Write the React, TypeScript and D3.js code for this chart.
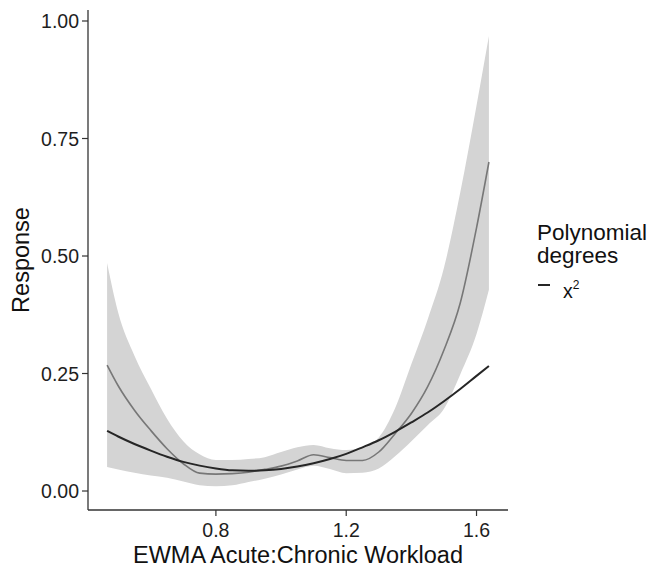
import React from 'react';
import * as d3 from 'd3';

// x grid (EWMA acute:chronic ratio) shared by every series
const workload = [0.466, 0.5, 0.55, 0.6, 0.65, 0.7, 0.75, 0.8, 0.85, 0.9, 0.95, 1.0, 1.05, 1.1, 1.15, 1.2, 1.25, 1.3, 1.35, 1.4, 1.45, 1.5, 1.55, 1.6, 1.638];

// smoother fit (grey) and its confidence band
const smoothFit = [0.268, 0.224, 0.172, 0.129, 0.09, 0.058, 0.038, 0.036, 0.037, 0.04, 0.046, 0.053, 0.064, 0.077, 0.071, 0.065, 0.065, 0.083, 0.122, 0.165, 0.222, 0.3, 0.4, 0.56, 0.7];
const bandUpper = [0.485, 0.38, 0.288, 0.218, 0.154, 0.106, 0.078, 0.066, 0.066, 0.068, 0.072, 0.083, 0.093, 0.098, 0.091, 0.087, 0.094, 0.114, 0.176, 0.27, 0.365, 0.475, 0.635, 0.82, 0.968];
const bandLower = [0.051, 0.046, 0.039, 0.033, 0.028, 0.02, 0.012, 0.01, 0.012, 0.019, 0.026, 0.035, 0.046, 0.054, 0.047, 0.038, 0.039, 0.048, 0.074, 0.106, 0.14, 0.175, 0.248, 0.334, 0.428];

// second degree polynomial (black)
const quadFit = [0.128, 0.116, 0.1, 0.086, 0.073, 0.062, 0.054, 0.048, 0.044, 0.043, 0.044, 0.047, 0.052, 0.059, 0.068, 0.079, 0.093, 0.108, 0.126, 0.146, 0.167, 0.191, 0.217, 0.245, 0.266];

const xTicks = [0.8, 1.2, 1.6];
const yTicks = [0, 0.25, 0.5, 0.75, 1];

const W = 654;
const H = 570;
const left = 88;
const right = 508;
const top = 10;
const bottom = 510;
const font = '"Liberation Sans", Arial, sans-serif';

export default function App() {
  const x = d3.scaleLinear().domain([0.4074, 1.6966]).range([left, right]);
  const y = d3.scaleLinear().domain([-0.0404, 1.0234]).range([bottom, top]);

  const band = d3.area<number>()
    .x((d, i) => x(workload[i]))
    .y0((d, i) => y(bandLower[i]))
    .y1((d) => y(d))
    .curve(d3.curveMonotoneX);

  const line = d3.line<number>()
    .x((d, i) => x(workload[i]))
    .y((d) => y(d))
    .curve(d3.curveMonotoneX);

  return (
    <svg width={W} height={H} style={{position: 'absolute', left: 0, top: 0, background: '#fff'}} fontFamily={font}>
      <rect width={W} height={H} fill="#fff"/>
      <path d={band(bandUpper) || ''} fill="#d4d4d4" stroke="none"/>
      <path d={line(smoothFit) || ''} fill="none" stroke="#777" strokeWidth={1.6}/>
      <path d={line(quadFit) || ''} fill="none" stroke="#262626" strokeWidth={2}/>

      {/* axes */}
      <line x1={left} x2={left} y1={top} y2={bottom} stroke="#333" strokeWidth={1.3}/>
      <line x1={left} x2={right} y1={bottom} y2={bottom} stroke="#333" strokeWidth={1.3}/>
      {yTicks.map((t) => (
        <g key={t}>
          <line x1={left - 6} x2={left} y1={y(t)} y2={y(t)} stroke="#333" strokeWidth={1.2}/>
          <text x={left - 9} y={y(t)} dy="0.36em" textAnchor="end" fontSize={19.5} fill="#1e1e1e">{d3.format('.2f')(t)}</text>
        </g>
      ))}
      {xTicks.map((t) => (
        <g key={t}>
          <line x1={x(t)} x2={x(t)} y1={bottom} y2={bottom + 6} stroke="#333" strokeWidth={1.2}/>
          <text x={x(t)} y={537} textAnchor="middle" fontSize={19.5} fill="#1e1e1e">{d3.format('.1f')(t)}</text>
        </g>
      ))}
      <text x={(left + right) / 2} y={563} textAnchor="middle" fontSize={23.5} fill="#111">EWMA Acute:Chronic Workload</text>
      <text transform={`translate(29,${(top + bottom) / 2}) rotate(-90)`} textAnchor="middle" fontSize={23.5} fill="#111">Response</text>

      {/* legend */}
      <text x={537} y={240} fontSize={22.5} fill="#111">Polynomial</text>
      <text x={537} y={263} fontSize={22.5} fill="#111">degrees</text>
      <line x1={538} x2={550} y1={285} y2={285} stroke="#262626" strokeWidth={2}/>
      <text x={563} y={298} fontSize={19.5} fill="#111">x<tspan fontSize={12} dy={-9}>2</tspan></text>
    </svg>
  );
}
